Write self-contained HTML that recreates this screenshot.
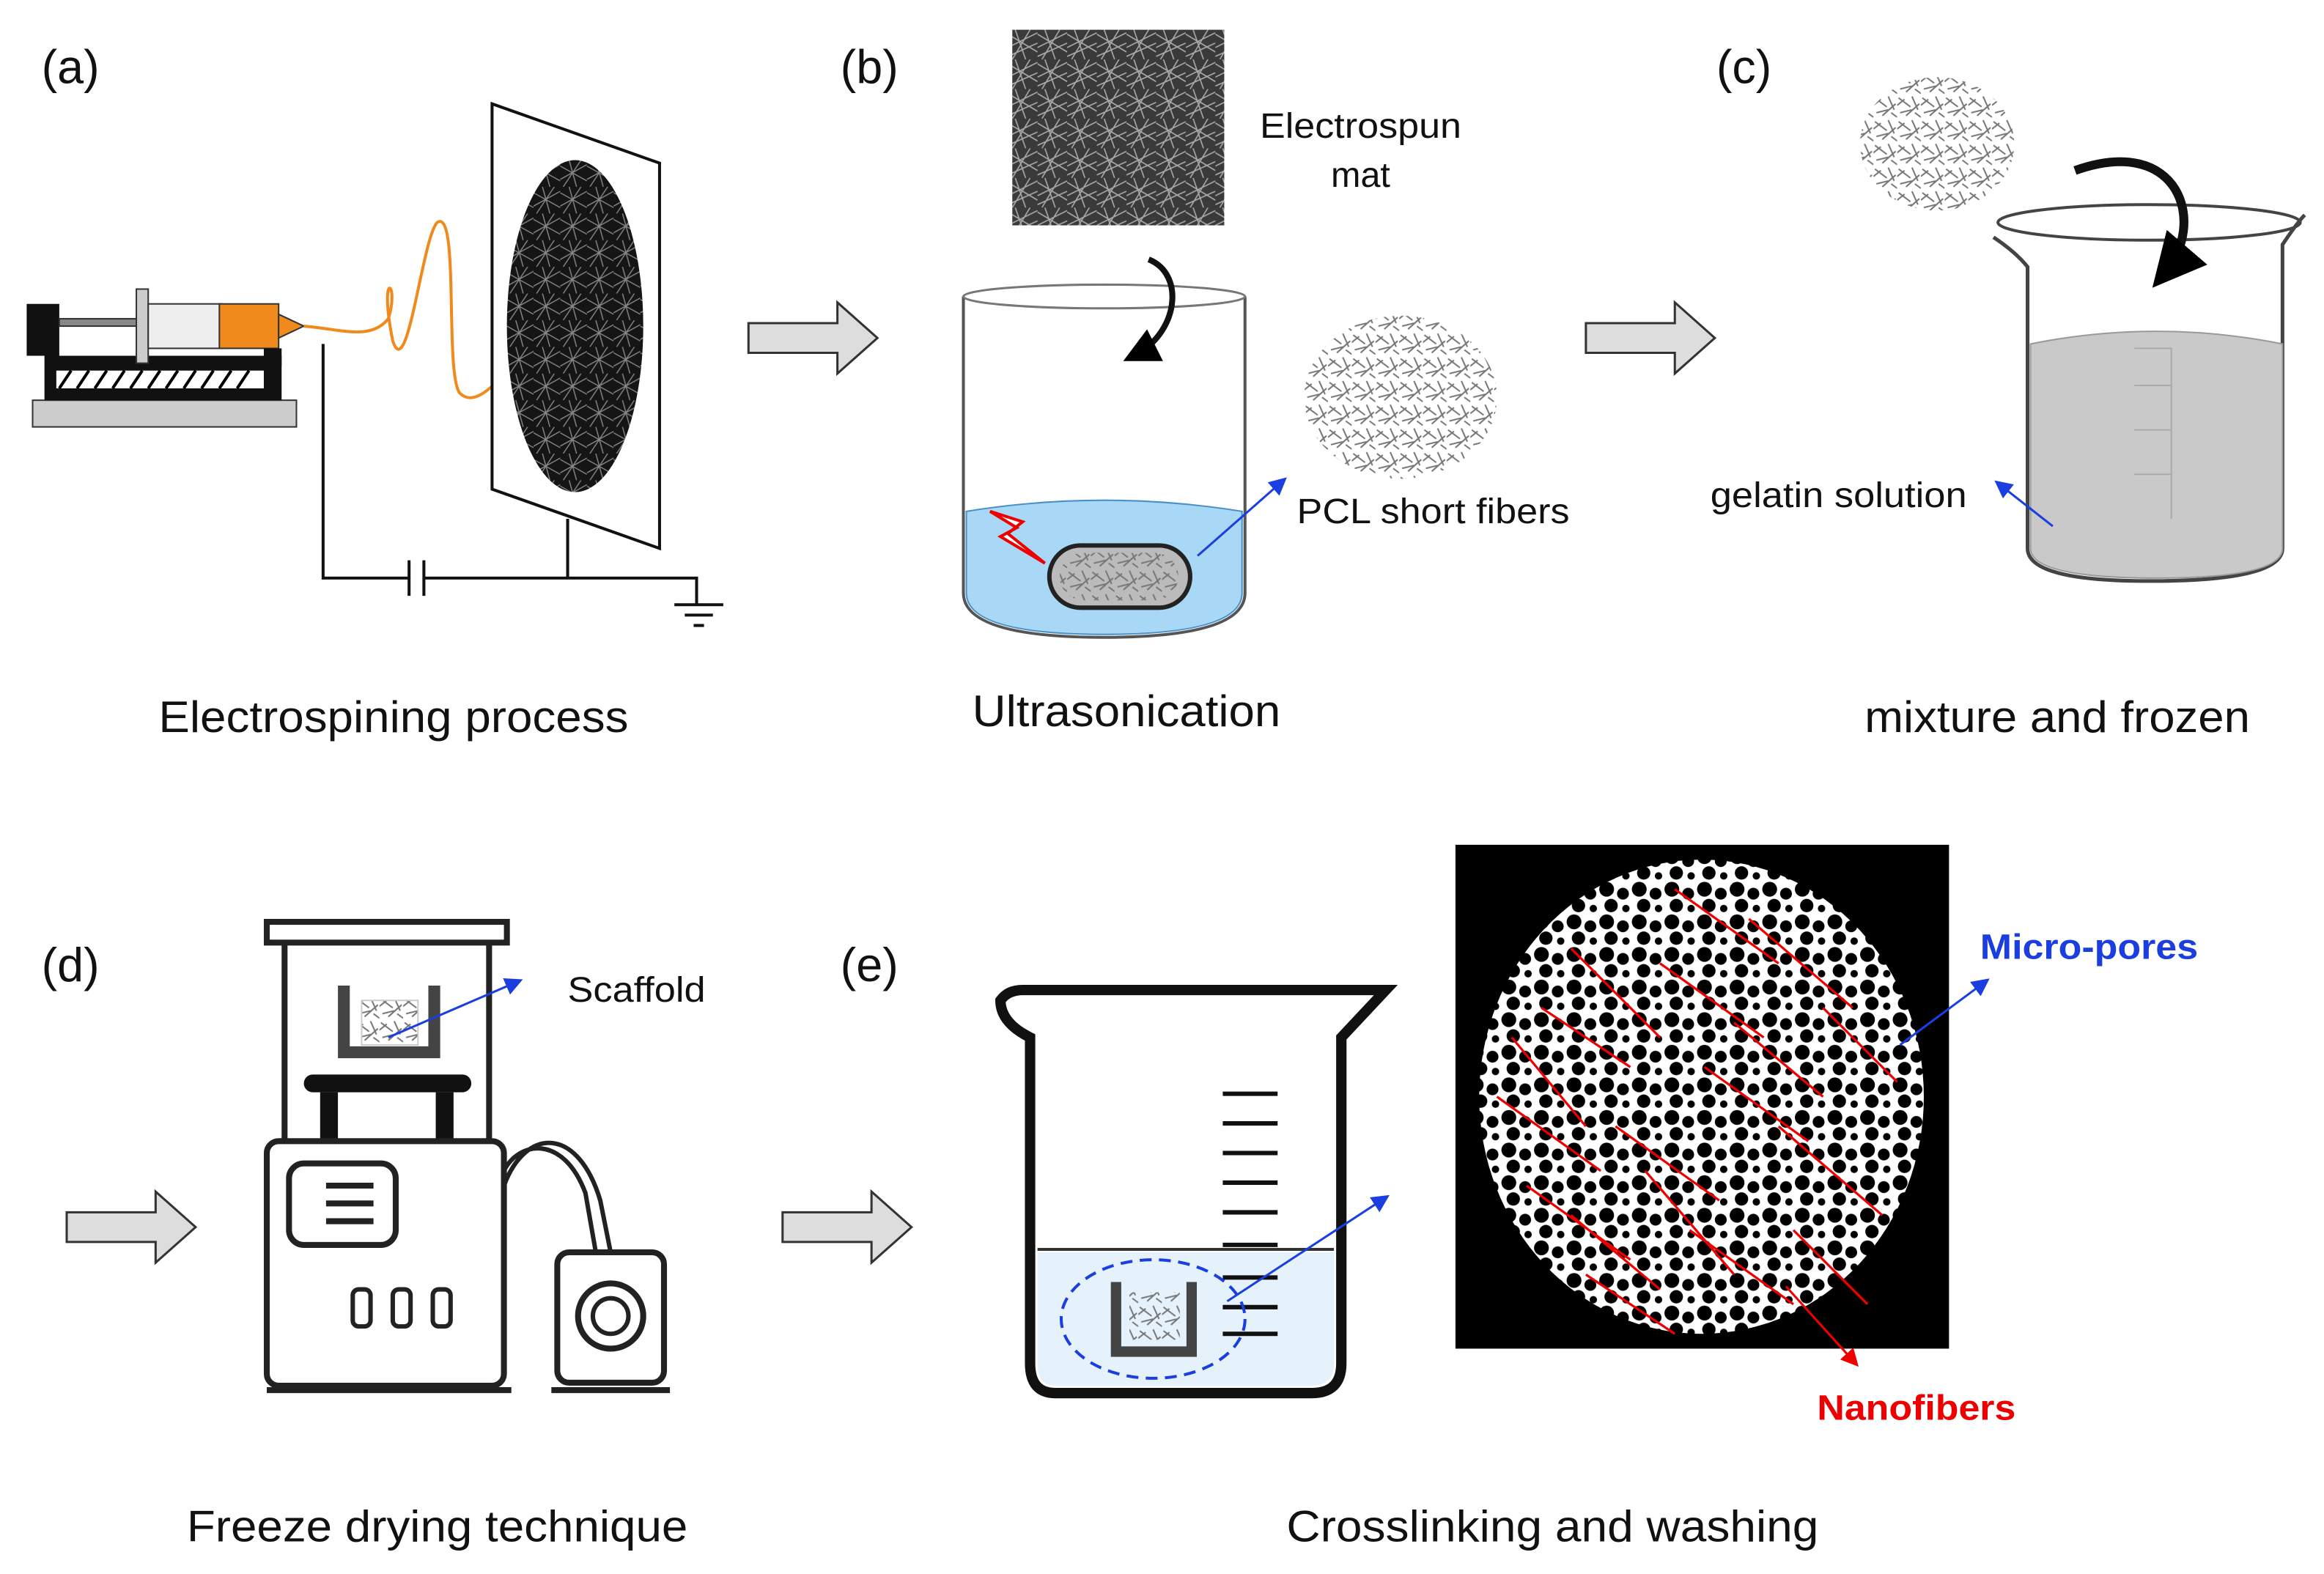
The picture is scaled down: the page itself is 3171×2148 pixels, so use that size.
<!DOCTYPE html>
<html><head><meta charset="utf-8"><style>
html,body{margin:0;padding:0;background:#fff;}
svg{display:block;}
text{font-family:"Liberation Sans",sans-serif;}
</style></head><body>
<svg width="3171" height="2148" viewBox="0 0 1568 1062" xmlns="http://www.w3.org/2000/svg">
<defs>
<pattern id="fib" width="20" height="20" patternUnits="userSpaceOnUse">
<rect width="20" height="20" fill="#3a3a3a"/>
<path d="M0 3 L20 15 M0 12 L20 2 M5 0 L12 20 M15 0 L3 20 M0 18 L20 9" stroke="#aaa" stroke-width="0.8"/>
</pattern>
<pattern id="fibd" width="18" height="18" patternUnits="userSpaceOnUse">
<rect width="18" height="18" fill="#151515"/>
<path d="M0 4 L18 14 M0 13 L18 3 M6 0 L11 18 M14 0 L2 18" stroke="#888" stroke-width="0.7"/>
</pattern>
<pattern id="short" width="16" height="16" patternUnits="userSpaceOnUse">
<path d="M1 2 L9 8 M10 1 L14 10 M2 12 L10 10 M6 14 L15 6 M12 12 L16 15 M0 7 L5 3" stroke="#777" stroke-width="1"/>
</pattern>
<pattern id="pore" width="22" height="22" patternUnits="userSpaceOnUse">
<rect width="22" height="22" fill="#fff"/>
<circle cx="6" cy="6" r="5" fill="#000"/><circle cx="17" cy="9" r="4" fill="#000"/><circle cx="9" cy="17" r="4.5" fill="#000"/><circle cx="19" cy="19" r="2.5" fill="#000"/>
</pattern>
<marker id="ab" markerWidth="8" markerHeight="8" refX="6" refY="4" orient="auto"><path d="M0 0 L8 4 L0 8z" fill="#1a3ee0"/></marker>
<marker id="ar" markerWidth="8" markerHeight="8" refX="6" refY="4" orient="auto"><path d="M0 0 L8 4 L0 8z" fill="#e00"/></marker>
<marker id="ak" markerWidth="6" markerHeight="6" refX="4" refY="3" orient="auto"><path d="M0 0 L6 3 L0 6z" fill="#000"/></marker>
</defs>
<g font-size="32" fill="#111">
<text x="28" y="56">(a)</text><text x="567" y="56">(b)</text><text x="1158" y="56">(c)</text>
<text x="28" y="662">(d)</text><text x="567" y="662">(e)</text>
</g>
<g font-size="30" fill="#111" lengthAdjust="spacingAndGlyphs">
<text x="107" y="494" textLength="317" lengthAdjust="spacingAndGlyphs">Electrospining process</text>
<text x="656" y="490" textLength="208" lengthAdjust="spacingAndGlyphs">Ultrasonication</text>
<text x="1258" y="494" textLength="260" lengthAdjust="spacingAndGlyphs">mixture and frozen</text>
<text x="126" y="1040" textLength="338" lengthAdjust="spacingAndGlyphs">Freeze drying technique</text>
<text x="868" y="1040" textLength="359" lengthAdjust="spacingAndGlyphs">Crosslinking and washing</text>
</g>
<g font-size="24" fill="#111">
<text x="850" y="93" textLength="136" lengthAdjust="spacingAndGlyphs">Electrospun</text>
<text x="918" y="126" text-anchor="middle">mat</text>
<text x="875" y="353" textLength="184" lengthAdjust="spacingAndGlyphs">PCL short fibers</text>
<text x="1154" y="342" textLength="173" lengthAdjust="spacingAndGlyphs">gelatin solution</text>
<text x="383" y="676" textLength="93" lengthAdjust="spacingAndGlyphs">Scaffold</text>
</g>
<text x="1336" y="647" font-size="24" font-weight="bold" fill="#1a3ee0" textLength="147" lengthAdjust="spacingAndGlyphs">Micro-pores</text>
<text x="1226" y="958" font-size="24" font-weight="bold" fill="#e00" textLength="134" lengthAdjust="spacingAndGlyphs">Nanofibers</text>
<!-- block arrows -->
<g fill="#ddd" stroke="#333" stroke-width="1.5">
<path d="M505 218 H565 V204 L592 228 L565 252 V238 H505Z"/>
<path d="M1070 218 H1130 V204 L1157 228 L1130 252 V238 H1070Z"/>
<path d="M45 818 H105 V804 L132 828 L105 852 V838 H45Z"/>
<path d="M528 818 H588 V804 L615 828 L588 852 V838 H528Z"/>
</g>
<!-- panel a -->
<rect x="22" y="270" width="178" height="18" fill="#ccc" stroke="#333"/>
<rect x="30" y="240" width="160" height="30" fill="#111"/>
<rect x="38" y="250" width="140" height="12" fill="#fff"/>
<path d="M40 262 L48 250 M52 262 L60 250 M64 262 L72 250 M76 262 L84 250 M88 262 L96 250 M100 262 L108 250 M112 262 L120 250 M124 262 L132 250 M136 262 L144 250 M148 262 L156 250 M160 262 L168 250" stroke="#000" stroke-width="2"/>
<rect x="18" y="205" width="22" height="35" fill="#111"/>
<rect x="40" y="215" width="100" height="5" fill="#888" stroke="#333"/>
<rect x="92" y="195" width="8" height="50" fill="#ccc" stroke="#333"/>
<rect x="100" y="205" width="50" height="30" fill="#eee" stroke="#333"/>
<rect x="148" y="205" width="40" height="30" fill="#f08a1c" stroke="#333"/>
<path d="M188 212 L205 220 L188 228Z" fill="#f08a1c" stroke="#333"/>
<rect x="178" y="235" width="12" height="12" fill="#111"/>
<path d="M205 220 C230 222 250 230 262 215 C270 190 255 180 265 230 C275 260 285 160 295 150 C310 140 300 250 310 265 C325 280 345 240 368 230" fill="none" stroke="#f08a1c" stroke-width="2"/>
<path d="M332 70 L445 110 L445 370 L332 330Z" fill="#fff" stroke="#111" stroke-width="2"/>
<ellipse cx="388" cy="220" rx="46" ry="112" fill="url(#fibd)"/>
<path d="M218 232 V390 H276 M286 390 H470 V408 M383 350 V390" fill="none" stroke="#111" stroke-width="2"/>
<path d="M276 378 V402 M286 378 V402" stroke="#111" stroke-width="2"/>
<path d="M455 408 H488 M462 415 H481 M468 422 H475" stroke="#111" stroke-width="2"/>
<!-- panel b -->
<rect x="683" y="20" width="143" height="132" fill="url(#fib)"/>
<path d="M650 200 V400 Q650 430 745 430 Q840 430 840 400 V200" fill="none" stroke="#555" stroke-width="2"/>
<ellipse cx="745" cy="200" rx="95" ry="8" fill="none" stroke="#777" stroke-width="1.5"/>
<path d="M652 345 Q745 330 838 345 V400 Q838 428 745 428 Q652 428 652 400Z" fill="#a8d8f5" stroke="#4a90c8"/>
<rect x="708" y="368" width="95" height="42" rx="21" fill="#bbb" stroke="#222" stroke-width="3"/>
<rect x="715" y="373" width="80" height="32" rx="16" fill="url(#short)"/>
<path d="M668 345 L690 352 L680 360 L705 380 L675 362 L686 356Z" fill="#fff" stroke="#e00" stroke-width="2"/>
<path d="M775 175 C800 185 795 225 765 240" fill="none" stroke="#111" stroke-width="4" marker-end="url(#ak)"/>
<ellipse cx="945" cy="268" rx="65" ry="55" fill="url(#short)"/>
<line x1="808" y1="375" x2="866" y2="324" stroke="#1a3ee0" stroke-width="1.5" marker-end="url(#ab)"/>
<!-- panel c -->
<ellipse cx="1307" cy="97" rx="52" ry="45" fill="url(#short)"/>
<path d="M1345 160 Q1360 170 1368 180 V370 Q1368 392 1450 392 Q1540 392 1540 370 V165 Q1550 150 1555 145" fill="none" stroke="#444" stroke-width="2.5"/>
<ellipse cx="1450" cy="150" rx="102" ry="12" fill="none" stroke="#444" stroke-width="2"/>
<path d="M1370 232 Q1455 215 1540 232 V370 Q1540 390 1455 390 Q1370 390 1370 370Z" fill="#c9c9c9" stroke="#999"/>
<path d="M1440 235 H1465 V350 M1440 260 H1465 M1440 290 H1465 M1440 320 H1465" stroke="#aaa" fill="none"/>
<path d="M1400 115 C1470 90 1490 150 1460 185" fill="none" stroke="#111" stroke-width="6" marker-end="url(#ak)"/>
<line x1="1385" y1="355" x2="1348" y2="326" stroke="#1a3ee0" stroke-width="1.5" marker-end="url(#ab)"/>
<!-- panel d -->
<rect x="180" y="622" width="162" height="14" fill="#fff" stroke="#222" stroke-width="4"/>
<path d="M192 636 V770 M330 636 V770" stroke="#222" stroke-width="4"/>
<path d="M232 665 V710 H293 V665" fill="none" stroke="#444" stroke-width="8"/>
<rect x="244" y="675" width="38" height="30" fill="url(#short)" stroke="#ccc"/>
<rect x="205" y="725" width="113" height="12" rx="6" fill="#111"/>
<path d="M222 737 V775 M300 737 V775" stroke="#111" stroke-width="12"/>
<rect x="180" y="770" width="160" height="165" rx="8" fill="#fff" stroke="#222" stroke-width="4"/>
<rect x="195" y="785" width="72" height="55" rx="10" fill="#fff" stroke="#222" stroke-width="4"/>
<path d="M220 800 H252 M220 812 H252 M220 824 H252" stroke="#222" stroke-width="4"/>
<rect x="238" y="870" width="12" height="25" rx="4" fill="none" stroke="#222" stroke-width="3"/>
<rect x="265" y="870" width="12" height="25" rx="4" fill="none" stroke="#222" stroke-width="3"/>
<rect x="292" y="870" width="12" height="25" rx="4" fill="none" stroke="#222" stroke-width="3"/>
<path d="M180 938 H345" stroke="#222" stroke-width="4"/>
<path d="M340 800 C355 760 390 760 405 810 L412 845 M340 790 C350 770 380 765 395 805 L402 845" fill="none" stroke="#222" stroke-width="3"/>
<rect x="376" y="845" width="72" height="88" rx="8" fill="#fff" stroke="#222" stroke-width="4"/>
<circle cx="412" cy="888" r="22" fill="#fff" stroke="#222" stroke-width="4"/>
<circle cx="412" cy="888" r="12" fill="#fff" stroke="#222" stroke-width="3"/>
<path d="M372 938 H452" stroke="#222" stroke-width="4"/>
<line x1="262" y1="700" x2="350" y2="662" stroke="#1a3ee0" stroke-width="1.5" marker-end="url(#ab)"/>
<!-- panel e -->
<path d="M675 675 Q680 668 690 668 H935 L905 700 V920 Q905 940 885 940 H712 Q695 940 695 920 V700 Q675 690 675 675Z" fill="#fff" stroke="#111" stroke-width="7"/>
<path d="M700 845 H900 V920 Q900 935 885 935 H712 Q700 935 700 920Z" fill="#e6f2fb"/>
<path d="M700 843 H900" stroke="#333" stroke-width="2"/>
<path d="M825 738 H862 M825 758 H862 M825 778 H862 M825 798 H862 M825 818 H862 M825 840 H862 M825 862 H862 M825 882 H862 M825 900 H862" stroke="#111" stroke-width="3"/>
<ellipse cx="778" cy="890" rx="62" ry="40" fill="none" stroke="#1a3ee0" stroke-width="2" stroke-dasharray="8,5"/>
<path d="M753 865 V912 H804 V865" fill="none" stroke="#444" stroke-width="7"/>
<rect x="762" y="872" width="34" height="32" fill="url(#short)"/>
<line x1="828" y1="878" x2="935" y2="808" stroke="#1a3ee0" stroke-width="1.5" marker-end="url(#ab)"/>
<rect x="982" y="570" width="333" height="340" fill="#000"/>
<ellipse cx="1148" cy="740" rx="150" ry="160" fill="url(#pore)"/>
<g stroke="#e00" stroke-width="1.6">
<path d="M1040 680 L1100 720 M1060 640 L1120 700 M1010 740 L1080 790 M1030 800 L1100 850 M1090 760 L1160 810 M1120 650 L1190 700 M1150 720 L1220 770 M1180 620 L1250 680 M1070 860 L1130 900 M1140 830 L1210 880 M1200 760 L1270 820 M1230 680 L1280 730 M1020 700 L1070 760 M1110 790 L1170 860 M1170 690 L1230 740 M1060 820 L1120 870 M1210 830 L1260 880 M1130 600 L1200 650"/>
</g>
<line x1="1282" y1="705" x2="1340" y2="662" stroke="#1a3ee0" stroke-width="1.5" marker-end="url(#ab)"/>
<line x1="1205" y1="868" x2="1252" y2="920" stroke="#e00" stroke-width="1.5" marker-end="url(#ar)"/>
</svg>
</body></html>
